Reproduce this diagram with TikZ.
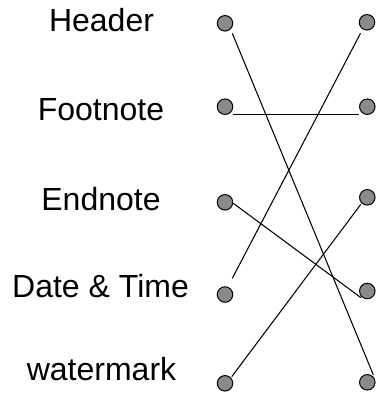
\documentclass[tikz,border=0pt]{standalone}
\usepackage{fontspec}
\setmainfont{Liberation Sans}
\definecolor{dotgray}{HTML}{8A8A8A}
\begin{document}
\begin{tikzpicture}[x=1pt,y=-1pt,
  dot/.style={circle,draw=black,fill=dotgray,line width=1pt,minimum size=15.5pt,inner sep=0pt},
  lab/.style={anchor=base,font=\fontsize{32}{38}\selectfont},
  link/.style={draw=black,line width=1.05pt}]
\useasboundingbox (0,0) rectangle (377,394);
% labels
\node[lab] (t1) at (101.5,31.5) {Header};
\node[lab] (t2) at (101,120) {Footnote};
\node[lab] (t3) at (101,210.5) {Endnote};
\node[lab] (t4) at (100.5,297.7) {Date \& Time};
\node[lab] (t5) at (101.5,380) {watermark};
% left dots
\node[dot] (l1) at (225,23.3) {};
\node[dot] (l2) at (225,106.7) {};
\node[dot] (l3) at (225,202.3) {};
\node[dot] (l4) at (225,294.5) {};
\node[dot] (l5) at (225,383.3) {};
% right dots
\node[dot] (r1) at (367,22.3) {};
\node[dot] (r2) at (367.3,106.7) {};
\node[dot] (r3) at (367.3,197.3) {};
\node[dot] (r4) at (367.3,291) {};
\node[dot] (r5) at (367.3,382.3) {};
% connector end points
\coordinate (a1) at ([shift={(7.3,10)}]l1.center);
\coordinate (b5) at ([shift={(6,-7.5)}]r5.center);
\coordinate (a2) at ([shift={(7.7,7.6)}]l2.center);
\coordinate (b2) at ([shift={(-8,7.6)}]r2.center);
\coordinate (a3) at ([shift={(8.3,1)}]l3.center);
\coordinate (b4) at ([shift={(-6.3,6.7)}]r4.center);
\coordinate (a4) at ([shift={(7.3,-16.2)}]l4.center);
\coordinate (b1) at ([shift={(-6.5,11)}]r1.center);
\coordinate (a5) at ([shift={(6.7,-6.6)}]l5.center);
\coordinate (b3) at ([shift={(-6.6,7.2)}]r3.center);
% connectors
\draw[link] (a1) -- (b5);
\draw[link] (a2) -- (b2);
\draw[link] (a3) -- (b4);
\draw[link] (a4) -- (b1);
\draw[link] (a5) -- (b3);
\end{tikzpicture}
\end{document}
